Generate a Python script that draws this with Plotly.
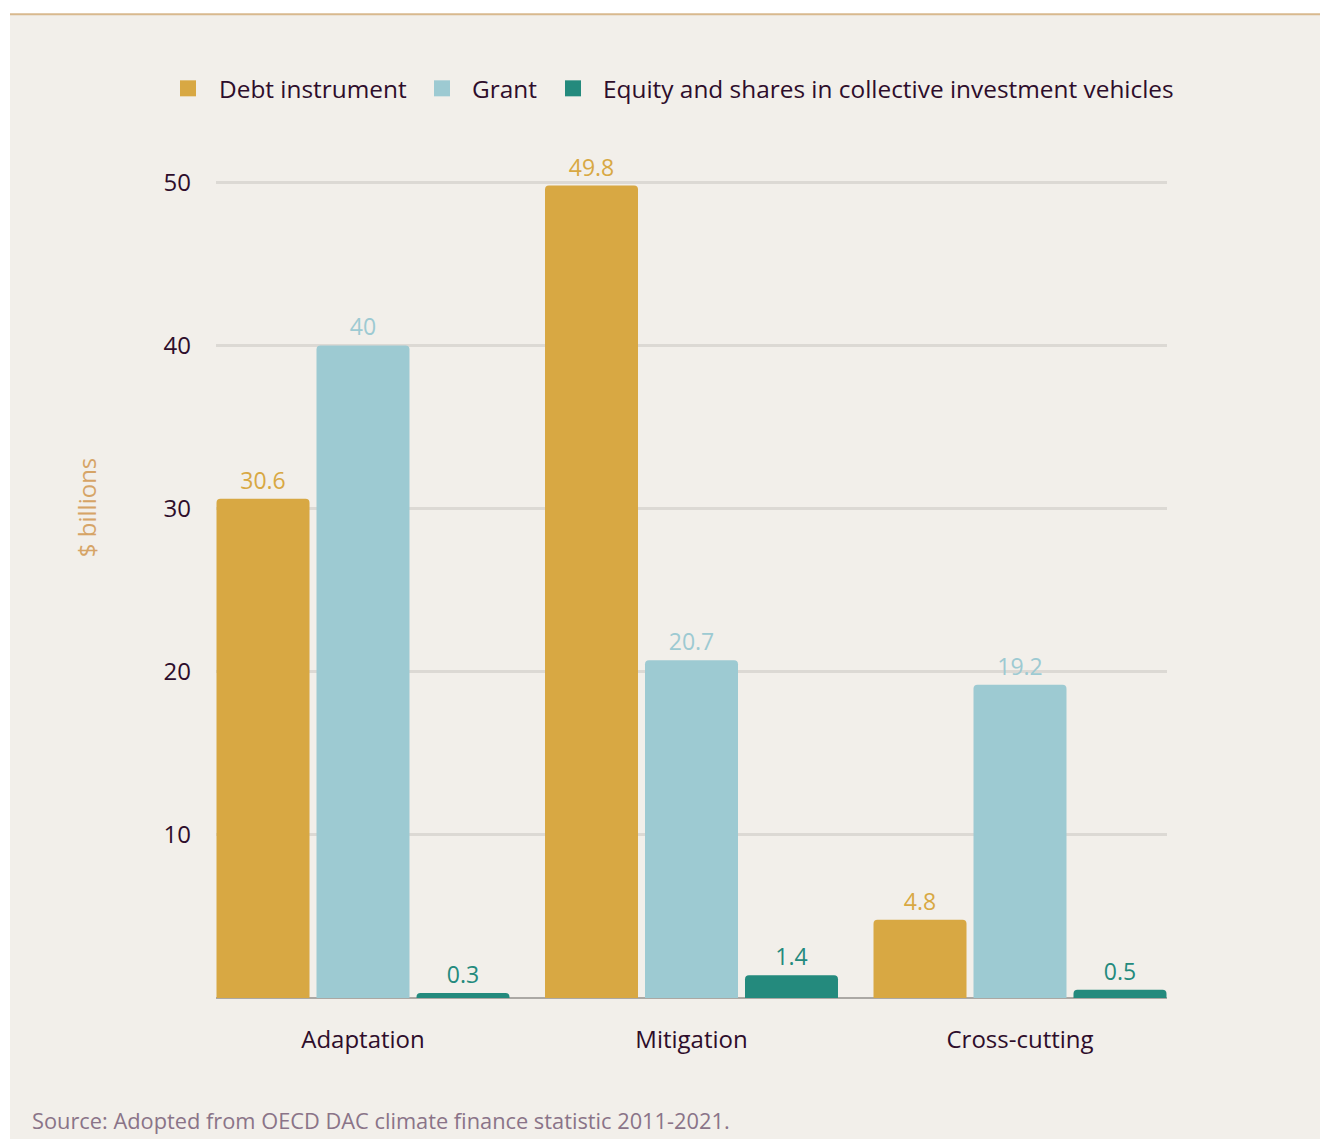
import plotly.graph_objects as go

categories = ["Adaptation", "Mitigation", "Cross-cutting"]
debt = [30.6, 49.8, 4.8]
grant = [40, 20.7, 19.2]
equity = [0.3, 1.4, 0.5]
series_names = ["Debt instrument", "Grant", "Equity and shares in collective investment vehicles"]
colors = ["#D8A843", "#9DCAD2", "#248A7D"]
y_ticks = [10, 20, 30, 40, 50]

OFF = 8  # default page body margin
W, H = 1328, 1139 - OFF
# target page coordinates of the plot area
L, R, T, B = 216 - OFF, 1167 - OFF, 165.7 - OFF, 998 - OFF
FONT = "Open Sans"
DARK = "#2E0D2B"

def px(x):
    return (x - OFF - L) / (R - L)

def py(y):
    return (B - (y - OFF)) / (B - T)

fig = go.Figure()
for name, vals, col in zip(series_names, [debt, grant, equity], colors):
    fig.add_trace(go.Bar(
        name=name, x=list(range(len(categories))), y=vals,
        marker=dict(color=col, line=dict(width=0)),
        text=vals, texttemplate="%{y}", textposition="outside",
        textfont=dict(color=col, size=23, family=FONT),
        cliponaxis=False, showlegend=False,
    ))

bg = "#F2EFEA"
shapes = [
    dict(type="rect", xref="paper", yref="paper", x0=px(10), x1=px(1345), y0=py(14), y1=py(1150),
         fillcolor=bg, line=dict(width=0), layer="below"),
    dict(type="line", xref="paper", yref="paper", x0=px(10), x1=px(1345), y0=py(14), y1=py(14),
         line=dict(color="#D8B98E", width=2), layer="below"),
]
annotations = [
    dict(text="$ billions", xref="paper", yref="paper", x=px(86), y=py(508), textangle=-90,
         showarrow=False, font=dict(size=24, color="#D6A466", family=FONT),
         xanchor="center", yanchor="middle"),
    dict(text="Source: Adopted from OECD DAC climate finance statistic 2011-2021.", xref="paper", yref="paper",
         x=px(30), y=py(1121), xanchor="left", yanchor="middle", showarrow=False,
         font=dict(size=21.8, color="#8A7488", family=FONT)),
]

# manual legend (page coordinates of marker left edge and text start)
legend_marker_x = [180, 434, 565]
legend_text_x = [217, 470, 601]
for name, col, mx, tx in zip(series_names, colors, legend_marker_x, legend_text_x):
    x0, x1, y0, y1 = px(mx), px(mx + 16), py(96), py(80)
    shapes.append(dict(
        type="rect", xref="paper", yref="paper", x0=x0, x1=x1, y0=y0, y1=y1,
        fillcolor=col, line=dict(width=0), layer="above"))
    annotations.append(dict(
        text=name, xref="paper", yref="paper", x=px(tx), y=py(88), xanchor="left", yanchor="middle",
        showarrow=False, font=dict(size=24.4, color=DARK, family=FONT)))

fig.update_layout(
    width=W, height=H,
    margin=dict(l=L, r=W - R, t=T, b=H - B, pad=0),
    paper_bgcolor="white", plot_bgcolor="rgba(0,0,0,0)",
    barmode="group", bargap=0.0868, bargroupgap=0.07, barcornerradius=4,
    font=dict(family=FONT, color=DARK, size=22),
    showlegend=False,
    xaxis=dict(range=[-0.4475, 2.4475], tickvals=[0, 1, 2], ticktext=categories,
               showgrid=False, zeroline=False, showline=False, ticks="",
               tickfont=dict(size=24, color=DARK, family=FONT), ticklabelstandoff=25),
    yaxis=dict(range=[0, 51], tickvals=y_ticks, showgrid=True, gridcolor="#DCD9D4", gridwidth=2.5,
               zeroline=True, zerolinecolor="#ABA8A4", zerolinewidth=2, showline=False, ticks="",
               tickfont=dict(size=24, color=DARK, family=FONT), ticklabelstandoff=24),
    shapes=shapes,
    annotations=annotations,
)

fig.write_html("out.html")
